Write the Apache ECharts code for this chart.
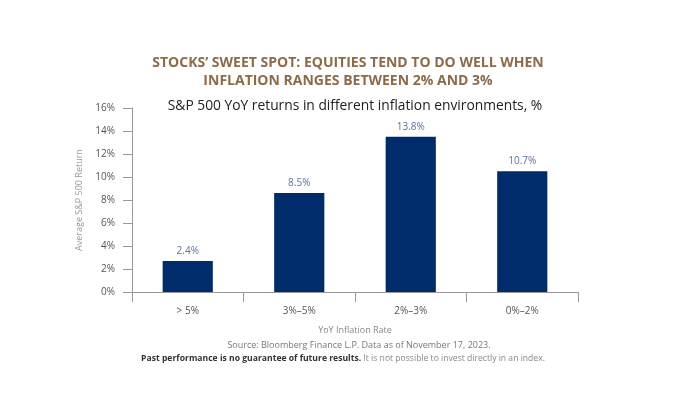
<!DOCTYPE html>
<html>
<head>
<meta charset="utf-8">
<script src="https://cdn.jsdelivr.net/npm/echarts@6/dist/echarts.min.js"></script>
<style>html,body{margin:0;padding:0;background:#fff}#c{width:700px;height:394px}</style>
</head>
<body>
<div id="c"></div>
<script>
const categories = ['> 5%', '3%\u20135%', '2%\u20133%', '0%\u20132%'];
const barValues = [2.7, 8.6, 13.5, 10.5];
const barLabels = ['2.4%', '8.5%', '13.8%', '10.7%'];
const yTicks = [0, 2, 4, 6, 8, 10, 12, 14, 16];

const chart = echarts.init(document.getElementById('c'), null, {renderer: 'canvas'});
const font = '"Open Sans", sans-serif';
chart.setOption({
  backgroundColor: '#fff',
  animation: false,
  title: [
    {text: 'STOCKS\u2019 SWEET SPOT: EQUITIES TEND TO DO WELL WHEN\nINFLATION RANGES BETWEEN 2% AND 3%', left: 343, textAlign: 'center', top: 49,
     textStyle: {fontFamily: font, fontWeight: 'bold', fontSize: 14, color: '#8c6b4a', lineHeight: 18}},
    {text: 'S&P 500 YoY returns in different inflation environments, %', left: 350, textAlign: 'center', top: 94,
     textStyle: {fontFamily: font, fontWeight: 'normal', fontSize: 13.8, color: '#222'}},
    {text: 'Source: Bloomberg Finance L.P. Data as of November 17, 2023.', left: 354, textAlign: 'center', top: 336,
     textStyle: {fontFamily: font, fontWeight: 'normal', fontSize: 9, color: '#777'}},
    {text: '{b|Past performance is no guarantee of future results.} {n|It is not possible to invest directly in an index.}', left: 338, textAlign: 'center', top: 349,
     textStyle: {fontFamily: font, fontWeight: 'normal', fontSize: 8.6,
       rich: {b: {fontFamily: font, fontWeight: 'bold', fontSize: 8.6, color: '#333'}, n: {fontFamily: font, fontWeight: 'normal', fontSize: 8.6, color: '#888'}}}}
  ],
  grid: {left: 132, right: 122, top: 108, bottom: 102},
  xAxis: {
    type: 'category', data: categories,
    name: 'YoY Inflation Rate', nameLocation: 'middle', nameGap: 34,
    nameTextStyle: {fontFamily: font, fontSize: 9, color: '#888'},
    axisLine: {lineStyle: {color: '#999'}},
    axisTick: {show: true, length: 10, lineStyle: {color: '#999'}},
    axisLabel: {fontFamily: font, fontSize: 10, color: '#555', margin: 14}
  },
  yAxis: {
    type: 'value', min: 0, max: 16, interval: 2,
    name: 'Average S&P 500 Return', nameLocation: 'middle', nameGap: 45, nameRotate: 90,
    nameTextStyle: {fontFamily: font, fontSize: 9, color: '#999'},
    axisLine: {show: true, lineStyle: {color: '#999'}},
    axisTick: {show: true, length: 9, lineStyle: {color: '#999'}},
    splitLine: {show: false},
    axisLabel: {fontFamily: font, fontSize: 10, color: '#555', margin: 17,
      formatter: v => yTicks.includes(v) ? v + '%' : ''}
  },
  series: [{
    type: 'bar', data: barValues, barWidth: '45%',
    itemStyle: {color: '#002c6b'},
    label: {show: true, position: 'top', distance: 5, fontFamily: font, fontSize: 10, color: '#5a739c',
      formatter: p => barLabels[p.dataIndex]}
  }]
});
</script>
</body>
</html>
